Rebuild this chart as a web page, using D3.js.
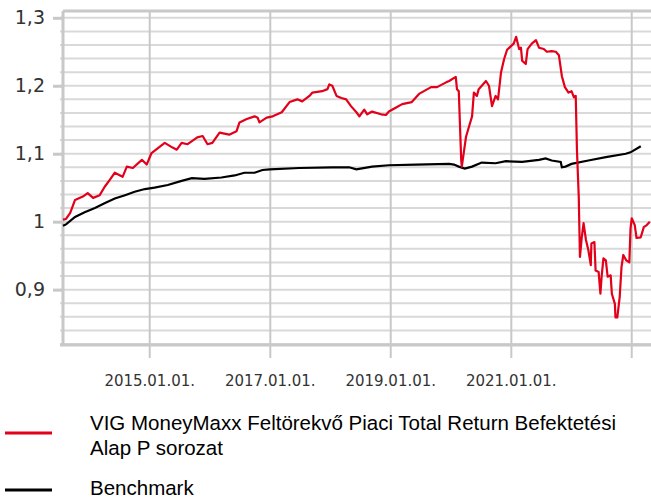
<!DOCTYPE html>
<html>
<head>
<meta charset="utf-8">
<script src="https://cdn.jsdelivr.net/npm/d3@7"></script>
<style>
  body { margin: 0; background: #fff; }
  svg { display: block; }
</style>
</head>
<body>
<div id="chart"></div>
<script>
// Fund series (red): [decimal year, value]
const fundSeries = [
  [2013.56, 1.003], [2013.61, 1.004], [2013.68, 1.013], [2013.76, 1.032], [2013.89, 1.037],
  [2013.97, 1.042], [2014.06, 1.035], [2014.17, 1.039], [2014.25, 1.051], [2014.34, 1.062],
  [2014.42, 1.072], [2014.55, 1.066], [2014.62, 1.081], [2014.72, 1.079], [2014.87, 1.091],
  [2014.95, 1.084], [2015.03, 1.101], [2015.25, 1.116], [2015.38, 1.109], [2015.45, 1.106],
  [2015.53, 1.116], [2015.63, 1.114], [2015.79, 1.124], [2015.88, 1.126], [2015.96, 1.114],
  [2016.04, 1.116], [2016.16, 1.131], [2016.32, 1.128], [2016.44, 1.133], [2016.49, 1.146],
  [2016.61, 1.151], [2016.74, 1.155], [2016.79, 1.153], [2016.82, 1.146], [2016.94, 1.153],
  [2017.04, 1.155], [2017.19, 1.161], [2017.32, 1.176], [2017.45, 1.180], [2017.53, 1.177],
  [2017.65, 1.185], [2017.70, 1.190], [2017.86, 1.192], [2017.95, 1.195], [2017.98, 1.202],
  [2018.03, 1.200], [2018.10, 1.185], [2018.18, 1.182], [2018.26, 1.180], [2018.34, 1.170],
  [2018.43, 1.161], [2018.48, 1.155], [2018.56, 1.165], [2018.61, 1.158], [2018.69, 1.162],
  [2018.84, 1.158], [2018.92, 1.157], [2018.97, 1.162], [2019.09, 1.168], [2019.19, 1.173],
  [2019.35, 1.176], [2019.47, 1.188], [2019.67, 1.198], [2019.77, 1.198], [2019.92, 1.205],
  [2019.97, 1.207], [2020.08, 1.213], [2020.10, 1.195], [2020.13, 1.192], [2020.17, 1.091],
  [2020.18, 1.081], [2020.22, 1.106], [2020.25, 1.125], [2020.30, 1.140], [2020.35, 1.155],
  [2020.38, 1.190], [2020.43, 1.185], [2020.46, 1.195], [2020.58, 1.207], [2020.63, 1.200],
  [2020.68, 1.170], [2020.74, 1.185], [2020.78, 1.180], [2020.83, 1.220], [2020.88, 1.239],
  [2020.93, 1.253], [2020.99, 1.258], [2021.04, 1.262], [2021.08, 1.272], [2021.13, 1.254],
  [2021.16, 1.256], [2021.18, 1.237], [2021.24, 1.232], [2021.27, 1.254], [2021.34, 1.262],
  [2021.41, 1.267], [2021.46, 1.256], [2021.54, 1.254], [2021.59, 1.250], [2021.67, 1.251],
  [2021.74, 1.250], [2021.79, 1.245], [2021.84, 1.214], [2021.89, 1.198], [2021.95, 1.190],
  [2022.00, 1.192], [2022.04, 1.183], [2022.07, 1.185], [2022.09, 1.106], [2022.12, 1.037],
  [2022.14, 0.948], [2022.17, 0.977], [2022.20, 0.998], [2022.24, 0.973], [2022.28, 0.958],
  [2022.32, 0.936], [2022.33, 0.968], [2022.38, 0.970], [2022.40, 0.928], [2022.45, 0.926],
  [2022.48, 0.894], [2022.50, 0.919], [2022.53, 0.946], [2022.57, 0.943], [2022.60, 0.919],
  [2022.65, 0.921], [2022.67, 0.894], [2022.72, 0.879], [2022.73, 0.859], [2022.76, 0.859],
  [2022.80, 0.889], [2022.83, 0.933], [2022.86, 0.951], [2022.91, 0.943], [2022.96, 0.940],
  [2022.98, 0.990], [2023.00, 1.005], [2023.05, 0.995], [2023.08, 0.976], [2023.15, 0.977],
  [2023.20, 0.992], [2023.25, 0.995], [2023.30, 1.000]
];

// Benchmark series (black)
const benchSeries = [
  [2013.56, 0.994], [2013.61, 0.996], [2013.76, 1.007], [2013.92, 1.014], [2014.09, 1.020],
  [2014.25, 1.027], [2014.42, 1.034], [2014.59, 1.039], [2014.75, 1.044], [2014.92, 1.048],
  [2015.08, 1.050], [2015.30, 1.054], [2015.53, 1.060], [2015.70, 1.064], [2015.91, 1.063],
  [2016.19, 1.065], [2016.41, 1.068], [2016.57, 1.072], [2016.74, 1.072], [2016.87, 1.076],
  [2016.99, 1.077], [2017.48, 1.079], [2018.03, 1.080], [2018.31, 1.080], [2018.43, 1.077],
  [2018.69, 1.081], [2018.97, 1.083], [2019.42, 1.084], [2019.97, 1.085], [2020.05, 1.084],
  [2020.13, 1.081], [2020.23, 1.078], [2020.35, 1.081], [2020.51, 1.087], [2020.74, 1.086],
  [2020.91, 1.089], [2021.18, 1.088], [2021.46, 1.091], [2021.57, 1.093], [2021.67, 1.090],
  [2021.82, 1.088], [2021.84, 1.080], [2021.90, 1.081], [2022.00, 1.085], [2022.28, 1.090],
  [2022.57, 1.095], [2022.90, 1.100], [2022.98, 1.102], [2023.15, 1.111]
];

const xTickYears = [2015, 2017, 2019, 2021, 2023];
const yMajorTicks = [0.9, 1.0, 1.1, 1.2, 1.3];
const xRange = [2013.56, 2023.32];
const yRange = [0.82, 1.31];

const legendNames = [
  ["VIG MoneyMaxx Feltörekvő Piaci Total Return Befektetési", "Alap P sorozat"],
  ["Benchmark"]
];

// decimal year -> Date
function toDate(t) {
  const y = Math.floor(t);
  const start = new Date(y, 0, 1), end = new Date(y + 1, 0, 1);
  return new Date(+start + (t - y) * (end - start));
}

const W = 651, H = 499;
const margin = { top: 11, right: 0, bottom: 155, left: 63 };

const svg = d3.select("#chart")
  .append("svg")
  .attr("width", W)
  .attr("height", H);

const x = d3.scaleTime()
  .domain(xRange.map(toDate))
  .range([margin.left, W - margin.right]);

const y = d3.scaleLinear()
  .domain(yRange)
  .range([H - margin.bottom, margin.top]);

const hu = d3.formatLocale({ decimal: ",", thousands: " ", grouping: [3], currency: ["", " Ft"] });
const fmt = hu.format(".1~f");

const gridColor = "#d9d9d9";
const borderColor = "#c8c8c8";

// horizontal minor gridlines every 0.02
const minor = d3.range(41, 66).map(i => i * 0.02);
svg.append("g")
  .selectAll("line")
  .data(minor)
  .enter()
  .append("line")
  .attr("x1", margin.left - 3)
  .attr("x2", W)
  .attr("y1", d => y(d))
  .attr("y2", d => y(d))
  .attr("stroke", gridColor)
  .attr("stroke-width", 2);

// vertical gridlines + ticks below
svg.append("g")
  .selectAll("line")
  .data(xTickYears)
  .enter()
  .append("line")
  .attr("x1", d => x(toDate(d)))
  .attr("x2", d => x(toDate(d)))
  .attr("y1", margin.top)
  .attr("y2", H - margin.bottom + 14)
  .attr("stroke", borderColor)
  .attr("stroke-width", 2);

// borders: left, top, bottom
const y0 = y(yRange[0]), y1 = y(yRange[1]);
svg.append("line")
  .attr("x1", margin.left).attr("x2", margin.left)
  .attr("y1", y1).attr("y2", y0 + 1)
  .attr("stroke", borderColor).attr("stroke-width", 3);
svg.append("line")
  .attr("x1", margin.left).attr("x2", W)
  .attr("y1", y1).attr("y2", y1)
  .attr("stroke", borderColor).attr("stroke-width", 3);
svg.append("line")
  .attr("x1", margin.left - 3).attr("x2", W)
  .attr("y1", y0 + 1).attr("y2", y0 + 1)
  .attr("stroke", borderColor).attr("stroke-width", 3);

// y axis major ticks + labels
const yAxis = svg.append("g")
  .attr("transform", `translate(${margin.left},0)`)
  .call(d3.axisLeft(y).tickValues(yMajorTicks).tickFormat(fmt).tickSize(10).tickPadding(8));
yAxis.select(".domain").remove();
yAxis.selectAll(".tick line").attr("stroke", borderColor).attr("stroke-width", 3);
yAxis.selectAll(".tick text")
  .attr("fill", "#333")
  .style("font-family", "DejaVu Sans, Verdana, sans-serif")
  .style("font-size", "19px");

// x axis labels (skip ones that do not fit)
const xLabels = svg.append("g");
xTickYears.forEach(yr => {
  const t = xLabels.append("text")
    .attr("x", x(toDate(yr)))
    .attr("y", 386)
    .attr("text-anchor", "middle")
    .attr("fill", "#333")
    .style("font-family", "DejaVu Sans, Verdana, sans-serif")
    .style("font-size", "15px")
    .text(d3.timeFormat("%Y.%m.%d.")(toDate(yr)));
  const b = t.node().getBBox();
  if (b.x + b.width > W) t.remove();
});

// lines
const line = d3.line()
  .x(d => x(toDate(d[0])))
  .y(d => y(d[1]));

svg.append("path")
  .datum(benchSeries)
  .attr("fill", "none")
  .attr("stroke", "#000")
  .attr("stroke-width", 2.2)
  .attr("d", line);

svg.append("path")
  .datum(fundSeries)
  .attr("fill", "none")
  .attr("stroke", "#e2001a")
  .attr("stroke-width", 2.2)
  .attr("stroke-linejoin", "round")
  .attr("d", line);

// legend
const legend = svg.append("g")
  .style("font-family", "Liberation Sans, Arial, sans-serif")
  .style("font-size", "20.5px")
  .attr("fill", "#000");

const legendColors = ["#e2001a", "#000"];
const legendLineY = [433, 490];
const legendTextY = [[430, 455], [495]];

legendNames.forEach((lines, i) => {
  legend.append("line")
    .attr("x1", 5).attr("x2", 52)
    .attr("y1", legendLineY[i]).attr("y2", legendLineY[i])
    .attr("stroke", legendColors[i])
    .attr("stroke-width", 3);
  lines.forEach((txt, j) => {
    legend.append("text")
      .attr("x", 90)
      .attr("y", legendTextY[i][j])
      .text(txt);
  });
});
</script>
</body>
</html>
